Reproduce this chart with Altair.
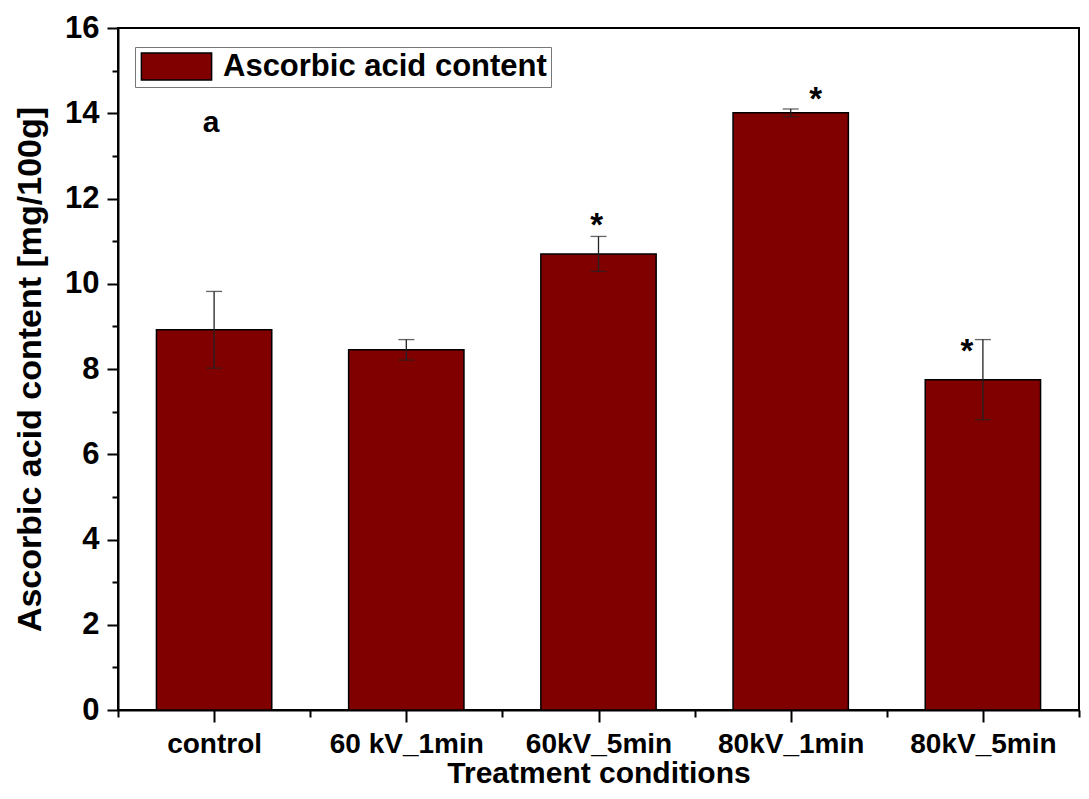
import json
import altair as alt
import pandas as pd

# ---- data ----
categories = ["control", "60 kV_1min", "60kV_5min", "80kV_1min", "80kV_5min"]
values = [8.92, 8.45, 10.70, 14.01, 7.75]
errors = [0.90, 0.24, 0.41, 0.09, 0.94]
series_name = "Ascorbic acid content"

star_positions = [2.99, 4.13, 4.917]
star_values = [11.35, 14.30, 8.40]
panel_label = "a"
panel_label_pos = [0.985]
panel_label_value = [13.77]

FONT = "Liberation Sans"
W, H = 961, 682

df = pd.DataFrame({
    "pos": list(range(1, len(categories) + 1)),
    "cat": categories,
    "value": values,
    "err": errors,
    "series": [series_name] * len(categories),
})
df["lo"] = df["value"] - df["err"]
df["hi"] = df["value"] + df["err"]

stars = pd.DataFrame({"pos": star_positions, "value": star_values, "t": ["*"] * len(star_values)})
plabel = pd.DataFrame({"pos": panel_label_pos, "value": panel_label_value, "t": [panel_label]})

x_scale = alt.Scale(domain=[0.5, len(categories) + 0.5], nice=False, zero=False)
y_scale = alt.Scale(domain=[0, 16], nice=False)

labels_js = json.dumps(categories)
x_axis = alt.Axis(
    title="Treatment conditions",
    values=[0.5 + 0.5 * i for i in range(2 * len(categories) + 1)],
    labelExpr=f"datum.value % 1 == 0 ? {labels_js}[datum.value - 1] : ''",
    tickSize={"condition": {"test": "datum.value % 1 == 0", "value": 12}, "value": 7},
    grid=False,
    labelFont=FONT, labelFontSize=28, labelFontWeight="bold", labelColor="black",
    labelPadding=8, labelOverlap=False, labelFlush=False,
    titleFont=FONT, titleFontSize=30, titleFontWeight="bold", titleColor="black",
    titlePadding=0,
    domainColor="black", domainWidth=2, tickColor="black", tickWidth=2,
)
y_axis = alt.Axis(
    title="Ascorbic acid content [mg/100g]",
    values=list(range(0, 17)),
    labelExpr="datum.value % 2 == 0 ? datum.label : ''",
    tickSize={"condition": {"test": "datum.value % 2 == 0", "value": 11}, "value": 6},
    grid=False,
    labelFont=FONT, labelFontSize=31, labelFontWeight="bold", labelColor="black",
    labelPadding=8,
    titleFont=FONT, titleFontSize=34, titleFontWeight="bold", titleColor="black",
    titlePadding=17,
    domainColor="black", domainWidth=2, tickColor="black", tickWidth=2,
)


def X(field):
    return alt.X(field, type="quantitative", scale=x_scale, axis=x_axis)


def Y(field):
    return alt.Y(field, type="quantitative", scale=y_scale, axis=y_axis)


base = alt.Chart(df)

bars = base.mark_bar(stroke="black", strokeWidth=1.5).transform_calculate(
    x1="datum.pos - 0.3", x2="datum.pos + 0.3"
).encode(
    x=X("x1"),
    x2="x2:Q",
    y=Y("value"),
    y2=alt.datum(0),
    color=alt.Color(
        "series:N",
        scale=alt.Scale(range=["#800000"]),
        legend=alt.Legend(
            title=None, orient="none", legendX=17, legendY=19,
            symbolType="M-2.6,-1L2.6,-1L2.6,1L-2.6,1Z",
            symbolSize=729, symbolOffset=22,
            symbolStrokeColor="black", symbolStrokeWidth=1.5,
            symbolOpacity=1, symbolFillColor="#800000",
            labelFont=FONT, labelFontSize=31, labelFontWeight="bold", labelColor="black",
            labelOffset=31, labelLimit=0,
            strokeColor="#777777", fillColor="white", padding=4,
        ),
    ),
)

err_rule = base.mark_rule(color="#222222", strokeWidth=1.3).encode(
    x=X("pos"), y=Y("lo"), y2="hi:Q"
)
cap_hi = base.mark_tick(orient="horizontal", size=16, thickness=1.3, color="#222222").encode(
    x=X("pos"), y=Y("hi")
)
cap_lo = base.mark_tick(orient="horizontal", size=16, thickness=1.3, color="#222222").encode(
    x=X("pos"), y=Y("lo")
)

star_text = alt.Chart(stars).mark_text(
    font=FONT, fontSize=33, fontWeight="bold", color="black", baseline="middle"
).encode(x=X("pos"), y=Y("value"), text="t:N")

a_text = alt.Chart(plabel).mark_text(
    font=FONT, fontSize=30, fontWeight="bold", color="black", baseline="middle"
).encode(x=X("pos"), y=Y("value"), text="t:N")

chart = alt.layer(bars, err_rule, cap_hi, cap_lo, star_text, a_text).properties(
    width=W, height=H,
    autosize=alt.AutoSizeParams(type="none"),
    padding={"left": 110, "top": 20, "right": 2, "bottom": 81},
).configure_view(stroke="black", strokeWidth=2)

chart.save("out.html", embed_options={"renderer": "svg", "actions": False})
